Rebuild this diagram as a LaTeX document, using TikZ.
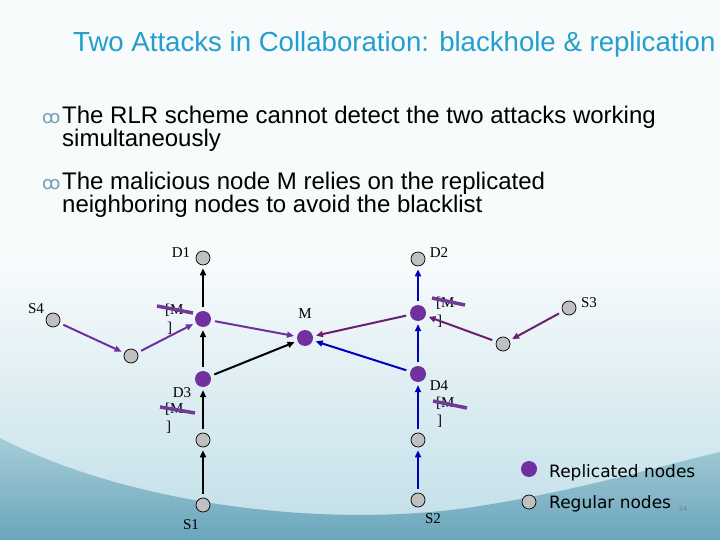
\documentclass[tikz,border=0pt]{standalone}
\usepackage{fontspec}
\setmainfont{Liberation Serif}
\setsansfont{Liberation Sans}
\newfontfamily\keyFont{DejaVu Sans}
\newfontfamily\bulletFont{DejaVu Sans}
\usetikzlibrary{positioning,arrows.meta}
\definecolor{titleBlue}{RGB}{35,158,205}
\definecolor{bulletBlue}{RGB}{110,160,185}
\definecolor{repPurple}{RGB}{112,48,160}
\definecolor{darkPurple}{RGB}{110,30,110}
\definecolor{strikePurple}{RGB}{112,58,150}
\definecolor{linkBlue}{RGB}{0,0,190}
\definecolor{regGray}{RGB}{192,192,192}
\definecolor{bgTop}{RGB}{248,251,252}
\definecolor{bgMid}{RGB}{192,222,232}
\definecolor{bandTop}{RGB}{165,204,216}
\definecolor{bandBottom}{RGB}{106,166,187}

\begin{document}
\begin{tikzpicture}[
    x=1pt, y=-1pt,
    regular/.style={%
      draw,
      circle,
      fill=regGray,
      minimum size=14pt,
      inner sep=0pt,
      line width=0.7pt,
    },
    replicated/.style={%
      circle,
      fill=repPurple,
      minimum size=16pt,
      inner sep=0pt,
    },
    tag/.style={%
      font=\fontsize{15}{17}\selectfont,
      inner sep=0pt,
      anchor=base,
    },
    link/.style={%
      line width=2pt,
      -{Triangle[length=7pt,width=6pt]},
      shorten >=3pt,
      shorten <=4pt,
    },
    strike/.style={draw=strikePurple, line width=3.5pt},
    bodyText/.style={%
      font=\sffamily\fontsize{24}{24}\selectfont,
      inner sep=0pt,
      anchor=base west,
    },
    keyText/.style={%
      font=\keyFont\fontsize{17}{20}\selectfont,
      inner sep=0pt,
      anchor=base west,
    },
  ]

    \useasboundingbox (0,0) rectangle (720,540);
    \fill[bgTop] (0,0) rectangle (720,540);
    \shade[top color=bgTop, bottom color=bgMid] (0,260) rectangle (720,540);
    \shade[top color=bandTop, bottom color=bandBottom]
      (0,438) .. controls (130,505) and (330,530) .. (480,506)
      .. controls (580,490) and (660,466) .. (720,452) -- (720,540) -- (0,540) -- cycle;

    \node [anchor=base west, inner sep=0pt, text=titleBlue,
      font=\sffamily\fontsize{27.6}{30}\selectfont] (title) at (73,52)
      {Two Attacks in Collaboration: blackhole \& replication};

    \node [anchor=base west, inner sep=0pt, text=bulletBlue,
      font=\bulletFont\fontsize{18}{20}\selectfont] (bulletA) at (42,124) {ꝏ};
    \node [bodyText] (pointA) at (62,124) {The RLR scheme cannot detect the two attacks working};
    \path (pointA.base west) ++(0,23) node [bodyText] (pointAnext) {simultaneously};
    \node [anchor=base west, inner sep=0pt, text=bulletBlue,
      font=\bulletFont\fontsize{18}{20}\selectfont] (bulletB) at (42,190) {ꝏ};
    \node [bodyText] (pointB) at (62,190) {The malicious node M relies on the replicated};
    \path (pointB.base west) ++(0,23) node [bodyText] (pointBnext) {neighboring nodes to avoid the blacklist};

    \node [regular] (d1) at (203,258) {};
    \node [regular] (d2) at (418,259) {};
    \node [regular] (s4) at (53,320) {};
    \node [regular] (s4Hop) at (131,356) {};
    \node [regular] (s3) at (569,308) {};
    \node [regular] (s3Hop) at (503,344) {};
    \node [replicated] (r1) at (203,319) {};
    \node [replicated] (r2) at (418,313) {};
    \node [replicated] (m) at (305,338) {};
    \node [replicated] (d3) at (203,379) {};
    \node [replicated] (d4) at (418,374) {};
    \node [regular] (d3Low) at (203,440) {};
    \node [regular] (d4Low) at (418,440) {};
    \node [regular] (s1) at (203,505) {};
    \node [regular] (s2) at (418,500) {};

    \path (d1) ++(-22,0) node [tag] (d1Tag) {D1};
    \path (d2) ++(21,-1) node [tag] (d2Tag) {D2};
    \path (s4) ++(-17,-7) node [tag] (s4Tag) {S4};
    \path (s3) ++(20,-1) node [tag] (s3Tag) {S3};
    \path (m) ++(0,-20) node [tag] (mTag) {M};
    \path (s1) ++(-12,24) node [tag] (s1Tag) {S1};
    \path (s2) ++(15,23) node [tag] (s2Tag) {S2};
    \path (d3) ++(-21,18) node [tag] (d3Tag) {D3};
    \path (d4) ++(21,16) node [tag] (d4Tag) {D4};

    \path (r1) ++(-38,-5) node [tag, anchor=base west] (r1Fake) {[M};
    \path (r1) ++(-36,13) node [tag, anchor=base west] (r1Close) {]};
    \path (r2) ++(18,-6) node [tag, anchor=base west] (r2Fake) {[M};
    \path (r2) ++(19,12) node [tag, anchor=base west] (r2Close) {]};
    \path (d3) ++(-38,34) node [tag, anchor=base west] (d3Fake) {[M};
    \path (d3) ++(-37,52) node [tag, anchor=base west] (d3Close) {]};
    \path (d4) ++(18,33) node [tag, anchor=base west] (d4Fake) {[M};
    \path (d4) ++(19,51) node [tag, anchor=base west] (d4Close) {]};

    \draw [strike] (r1Fake.base west) ++(-8,-8) -- ++(36,7);
    \draw [strike] (r2Fake.base west) ++(-4,-9) -- ++(33,7);
    \draw [strike] (d3Fake.base west) ++(-5,-6) -- ++(35,6);
    \draw [strike] (d4Fake.base west) ++(-3,-6) -- ++(34,7);

    \draw [link, black] (s1) -- (d3Low);
    \draw [link, black] (d3Low) -- (d3);
    \draw [link, black] (d3) -- (r1);
    \draw [link, black] (r1) -- (d1);
    \draw [link, black] (d3) -- (m);

    \draw [link, repPurple] (s4) -- (s4Hop);
    \draw [link, repPurple] (s4Hop) -- (r1);
    \draw [link, repPurple] (r1) -- (m);

    \draw [link, darkPurple] (s3) -- (s3Hop);
    \draw [link, darkPurple] (s3Hop) -- (r2);
    \draw [link, darkPurple] (r2) -- (m);

    \draw [link, linkBlue] (s2) -- (d4Low);
    \draw [link, linkBlue] (d4Low) -- (d4);
    \draw [link, linkBlue] (d4) -- (r2);
    \draw [link, linkBlue] (r2) -- (d2);
    \draw [link, linkBlue] (d4) -- (m);

    \node [replicated] (keyRep) at (529,469) {};
    \node [regular] (keyReg) at (529,502) {};
    \path (keyRep) ++(20,8) node [keyText] (keyRepText) {Replicated nodes};
    \path (keyReg) ++(20,6) node [keyText] (keyRegText) {Regular nodes};
    \path (keyRegText.base east) ++(7,3) node [anchor=base west, inner sep=0pt,
      text=gray, font=\keyFont\fontsize{7}{8}\selectfont] (pageNo) {34};
\end{tikzpicture}
\end{document}
